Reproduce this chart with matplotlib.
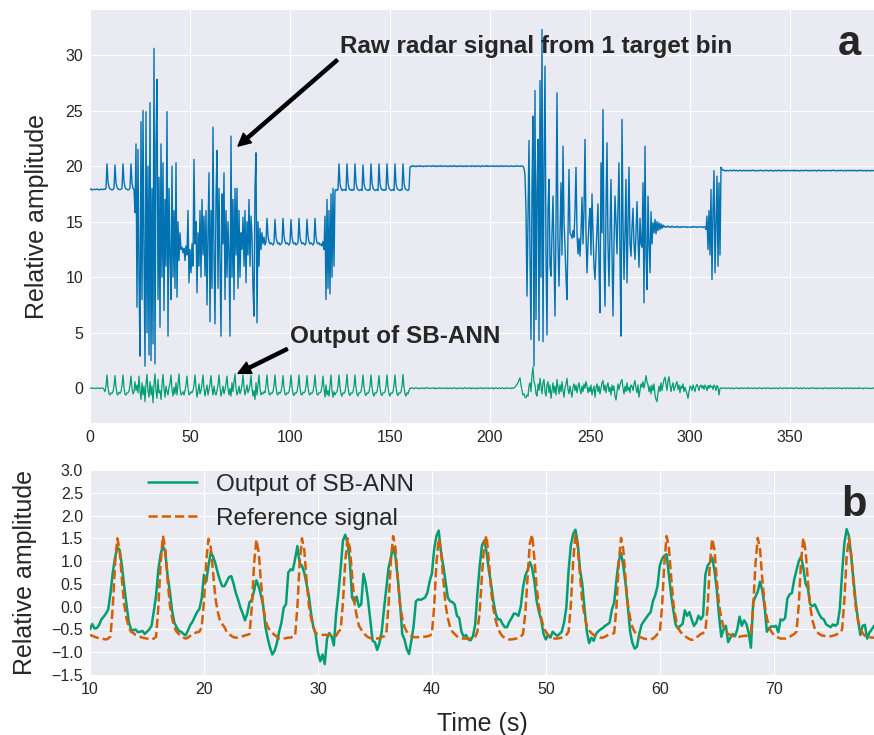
import numpy as np
import matplotlib
matplotlib.use("Agg")
import matplotlib.pyplot as plt

# ---- panel a: raw radar bin and SB-ANN output, one sample every 0.5 s from t = 0
raw_step = 0.5
raw_signal = [
    17.9, 17.95, 17.85, 17.9, 17.92, 17.88, 17.9, 17.95, 17.9, 17.85, 17.9, 17.93, 17.88, 17.9, 17.95, 17.9, 18.0, 20.2, 18.6, 18.1,
    17.95, 17.9, 17.85, 17.9, 18.0, 20.1, 18.5, 18.1, 17.95, 17.9, 17.88, 17.92, 18.0, 20.2, 18.6, 18.1, 17.95, 17.9, 17.85, 17.9,
    18.0, 20.2, 18.5, 18.0, 17.9, 15.8, 22.0, 7.3, 21.5, 10.0, 2.9, 24.0, 8.0, 25.0, 12.0, 2.0, 24.9, 5.0, 20.0, 3.0,
    25.7, 2.5, 18.0, 4.0, 30.6, 2.2, 22.0, 27.8, 8.0, 19.0, 5.5, 22.0, 10.0, 20.3, 7.0, 17.0, 11.0, 24.9, 4.7, 18.0,
    12.0, 8.0, 20.0, 10.0, 16.0, 9.0, 20.3, 8.2, 15.0, 11.5, 14.0, 12.5, 12.7, 12.2, 12.6, 11.5, 12.8, 12.0, 16.0, 9.5,
    12.5, 10.4, 13.0, 11.0, 20.6, 13.0, 15.0, 8.6, 14.0, 11.0, 16.0, 10.0, 17.0, 12.0, 15.5, 10.1, 16.0, 7.5, 14.0, 19.4,
    6.0, 16.0, 9.0, 23.5, 12.0, 5.8, 17.0, 21.4, 9.0, 18.0, 11.0, 4.7, 17.5, 13.0, 19.4, 8.0, 16.0, 10.0, 15.0, 12.0,
    4.7, 22.7, 10.0, 17.0, 8.0, 18.0, 12.0, 18.0, 9.0, 16.0, 10.0, 14.0, 12.5, 15.4, 11.0, 16.0, 9.5, 15.0, 12.0, 17.0,
    11.0, 15.5, 13.7, 9.0, 6.5, 18.0, 21.2, 5.9, 15.0, 11.0, 14.4, 12.5, 14.0, 13.0, 13.6, 12.9, 13.2, 15.3, 13.7, 13.2,
    13.0, 13.1, 13.0, 12.9, 13.1, 15.2, 13.6, 13.2, 13.0, 13.1, 12.9, 13.0, 13.1, 15.3, 13.7, 13.2, 13.0, 13.1, 13.0, 12.9,
    13.1, 15.2, 13.6, 13.1, 13.0, 13.1, 12.9, 13.0, 13.1, 15.3, 13.6, 13.2, 13.0, 13.1, 13.0, 12.9, 13.1, 15.2, 13.7, 13.2,
    13.0, 13.1, 13.0, 12.9, 13.1, 15.3, 13.6, 13.1, 13.0, 13.1, 12.9, 13.0, 12.8, 13.2, 12.5, 15.5, 8.0, 17.0, 9.0, 16.0,
    8.5, 17.5, 10.0, 18.0, 11.0, 17.8, 17.9, 17.8, 17.9, 20.2, 18.4, 18.0, 17.8, 17.9, 17.85, 17.9, 17.8, 20.2, 18.5, 18.0,
    17.85, 17.9, 17.8, 17.9, 17.85, 20.2, 18.5, 18.0, 17.9, 17.8, 17.85, 17.9, 17.8, 20.1, 18.4, 18.0, 17.9, 17.85, 17.8, 17.9,
    17.85, 20.2, 18.5, 18.0, 17.9, 17.8, 17.85, 17.9, 17.8, 20.2, 18.4, 18.0, 17.85, 17.9, 17.8, 17.9, 17.85, 20.2, 18.5, 18.0,
    17.9, 17.8, 17.85, 17.9, 17.8, 20.2, 18.4, 18.0, 17.9, 17.85, 17.8, 17.9, 17.85, 20.2, 18.5, 18.0, 17.9, 17.85, 17.8, 17.9,
    19.9, 20.0, 19.95, 20.05, 19.98, 20.0, 19.95, 20.02, 20.0, 19.97, 20.05, 19.98, 20.0, 19.95, 20.02, 20.0, 19.96, 20.03, 19.99, 20.0,
    20.02, 19.96, 20.0, 20.05, 19.97, 19.99, 20.03, 19.95, 20.0, 20.02, 19.98, 20.04, 19.96, 20.0, 20.01, 19.97, 20.03, 19.99, 19.95, 20.02,
    19.98, 20.03, 19.96, 20.0, 20.05, 19.97, 20.01, 19.95, 20.02, 20.0, 19.97, 20.04, 19.99, 19.96, 20.02, 20.0, 19.95, 20.03, 19.98, 20.01,
    20.0, 19.96, 20.04, 19.98, 20.01, 19.95, 20.03, 20.0, 19.97, 20.02, 19.99, 19.95, 20.04, 20.0, 19.97, 20.02, 19.98, 20.05, 19.96, 20.0,
    20.02, 19.97, 20.0, 20.04, 19.96, 20.01, 19.98, 20.03, 19.95, 20.0, 20.02, 19.97, 20.04, 19.99, 19.96, 20.01, 20.03, 19.98, 20.0, 19.96,
    20.01, 20.03, 19.97, 20.0, 19.96, 20.02, 19.98, 20.04, 19.99, 20.0, 19.97, 20.02, 19.98, 20.0, 19.8, 19.2, 16.0, 8.3, 15.0, 22.3,
    12.0, 4.4, 18.0, 24.5, 2.0, 26.8, 6.2, 18.0, 22.4, 4.3, 27.7, 10.0, 32.3, 4.2, 20.0, 29.0, 12.0, 4.8, 16.0, 18.8,
    11.0, 10.1, 14.0, 17.3, 12.0, 6.5, 15.0, 26.6, 13.0, 9.2, 14.0, 18.5, 12.0, 21.8, 15.0, 12.8, 10.0, 8.0, 14.0, 19.7,
    14.0, 13.8, 13.5, 14.2, 13.6, 16.0, 19.9, 14.0, 12.1, 13.5, 11.9, 14.0, 17.2, 13.0, 16.0, 22.4, 14.0, 10.4, 13.0, 15.0,
    16.2, 12.0, 17.5, 14.0, 11.0, 9.8, 12.1, 14.5, 16.6, 11.0, 6.8, 20.3, 14.0, 25.1, 12.0, 7.4, 16.0, 22.1, 13.0, 9.2,
    14.0, 18.8, 12.0, 6.5, 13.0, 17.3, 15.0, 12.1, 16.0, 20.3, 12.0, 4.7, 24.2, 15.0, 9.8, 14.0, 18.8, 9.5, 15.0, 19.9,
    13.0, 11.9, 14.5, 16.2, 13.0, 11.6, 14.0, 16.8, 13.5, 10.9, 15.3, 13.0, 12.7, 18.5, 7.7, 21.8, 12.0, 8.9, 17.3, 13.0,
    10.4, 15.9, 13.0, 14.9, 14.0, 15.2, 13.9, 15.0, 14.2, 14.9, 14.3, 14.8, 14.4, 14.7, 14.5, 14.6, 14.5, 14.55, 14.6, 14.5,
    14.55, 14.5, 14.6, 14.52, 14.48, 14.55, 14.5, 14.58, 14.5, 14.53, 14.47, 14.55, 14.5, 14.57, 14.52, 14.5, 14.55, 14.48, 14.53, 14.5,
    14.52, 14.48, 14.55, 14.5, 14.57, 14.5, 14.53, 14.47, 14.55, 14.5, 14.52, 14.56, 14.5, 14.48, 14.55, 14.5, 14.3, 15.5, 12.5, 16.0,
    12.0, 17.9, 9.8, 16.0, 19.6, 10.4, 15.0, 19.1, 11.0, 18.5, 12.0, 19.9, 19.7, 19.6, 19.65, 19.6, 19.55, 19.62, 19.6, 19.58,
    19.6, 19.63, 19.57, 19.6, 19.65, 19.58, 19.6, 19.62, 19.55, 19.6, 19.64, 19.58, 19.6, 19.57, 19.63, 19.6, 19.56, 19.62, 19.6, 19.58,
    19.62, 19.57, 19.6, 19.64, 19.58, 19.6, 19.55, 19.62, 19.6, 19.57, 19.63, 19.6, 19.58, 19.61, 19.56, 19.6, 19.64, 19.59, 19.6, 19.57,
    19.6, 19.63, 19.58, 19.6, 19.55, 19.62, 19.6, 19.57, 19.64, 19.6, 19.58, 19.62, 19.56, 19.6, 19.63, 19.58, 19.6, 19.57, 19.62, 19.6,
    19.57, 19.62, 19.6, 19.58, 19.64, 19.56, 19.6, 19.62, 19.58, 19.6, 19.55, 19.63, 19.6, 19.57, 19.61, 19.6, 19.64, 19.58, 19.6, 19.56,
    19.62, 19.6, 19.57, 19.63, 19.58, 19.6, 19.62, 19.55, 19.6, 19.64, 19.58, 19.6, 19.57, 19.62, 19.6, 19.56, 19.63, 19.6, 19.58, 19.61,
    19.6, 19.57, 19.62, 19.6, 19.64, 19.58, 19.6, 19.56, 19.62, 19.6, 19.58, 19.63, 19.6, 19.57, 19.6, 19.62, 19.55, 19.6, 19.63, 19.58,
    19.6, 19.62, 19.57, 19.6, 19.63, 19.58, 19.6, 19.56, 19.62, 19.6, 19.58, 19.64, 19.6, 19.57, 19.61, 19.6, 19.55, 19.62, 19.6, 19.58,
    19.6, 19.58, 19.62, 19.6, 19.57,
]
ann_long = [
    0.02, 0.0, 0.05, -0.02, 0.03, 0.0, -0.03, 0.02, 0.05, 0.0, -0.02, 0.03, 0.0, 0.02, -0.1, -0.3, 0.2, 1.2, 0.1, -0.5,
    -0.6, -0.4, -0.45, -0.3, 0.2, 1.15, 0.1, -0.5, -0.6, -0.35, -0.45, -0.3, 0.25, 1.2, 0.05, -0.55, -0.6, -0.4, -0.4, -0.25,
    0.3, 1.1, 0.0, -0.5, -0.3, 0.6, -0.2, 0.3, -0.4, 1.1, -0.2, -1.0, 0.5, -0.6, 0.2, -1.2, 0.4, 1.25, -0.3, -0.8,
    0.6, -0.6, 0.2, -1.3, 0.3, 1.3, -0.2, -0.9, 0.8, -0.4, -0.2, -1.0, 0.3, 1.25, 0.0, -0.8, 0.2, -0.3, -0.6, 0.1,
    0.4, 1.2, -0.1, -0.7, 0.1, -0.5, 0.5, -0.6, 0.3, 1.3, 0.0, -0.6, -0.5, -0.3, -0.6, -0.2, 0.3, 1.1, 0.0, -0.6,
    -0.5, -0.3, -0.4, -0.2, 0.3, 1.2, 0.1, -0.8, -0.3, 0.4, -0.5, -0.2, 0.4, 1.2, 0.0, -0.7, -0.2, 0.3, -0.6, -0.1,
    0.4, 1.15, 0.0, -0.6, 0.2, -0.4, -0.6, -0.2, 0.3, 1.2, 0.1, -0.7, -0.3, 0.2, -0.5, -0.1, 0.4, 1.1, -0.1, -0.6,
    0.0, -0.7, 0.5, -0.3, 0.6, 1.3, 0.0, -0.6, -0.3, 0.2, -0.5, -0.2, 0.3, 1.2, 0.1, -0.6, -0.2, 0.3, -0.4, -0.1,
    0.3, 1.15, 0.0, -0.7, -0.2, -1.0, 0.5, -0.6, 0.3, 1.2, 0.0, -0.6, -0.4, -0.5, -0.3, -0.4, 0.3, 1.2, 0.1, -0.5,
    -0.6, -0.4, -0.45, -0.3, 0.25, 1.2, 0.1, -0.5, -0.6, -0.35, -0.45, -0.3, 0.2, 1.15, 0.05, -0.55, -0.6, -0.4, -0.45, -0.3,
    0.2, 1.2, 0.1, -0.5, -0.65, -0.4, -0.45, -0.3, 0.25, 1.2, 0.0, -0.55, -0.6, -0.35, -0.4, -0.3, 0.2, 1.15, 0.1, -0.5,
    -0.6, -0.4, -0.45, -0.3, 0.25, 1.2, 0.05, -0.55, -0.6, -0.4, -0.4, -0.3, 0.2, 1.1, 0.0, -0.8, 0.3, -0.6, -0.2, -0.7,
    0.3, 1.2, -0.2, -0.8, -0.3, -0.6, -0.4, -0.3, 0.2, 1.2, 0.1, -0.5, -0.7, -0.4, -0.45, -0.3, 0.25, 1.25, 0.1, -0.5,
    -0.65, -0.4, -0.45, -0.3, 0.2, 1.2, 0.05, -0.55, -0.7, -0.4, -0.4, -0.3, 0.25, 1.2, 0.1, -0.5, -0.65, -0.4, -0.45, -0.3,
    0.2, 1.2, 0.1, -0.5, -0.7, -0.4, -0.45, -0.3, 0.25, 1.15, 0.05, -0.55, -0.65, -0.4, -0.4, -0.3, 0.2, 1.2, 0.1, -0.5,
    -0.7, -0.4, -0.45, -0.3, 0.25, 1.2, 0.1, -0.5, -0.65, -0.4, -0.45, -0.3, 0.2, 1.25, 0.1, -0.5, -0.7, -0.4, -0.5, -0.2,
    0.03, -0.02, 0.05, 0.0, -0.04, 0.02, 0.06, -0.01, 0.03, -0.05, 0.01, 0.04, -0.02, 0.0, 0.05, -0.03, 0.02, 0.07, -0.01, 0.03,
    -0.03, 0.02, 0.0, 0.05, -0.02, 0.04, -0.05, 0.01, 0.03, -0.01, 0.06, 0.0, -0.03, 0.02, 0.04, -0.02, 0.01, 0.05, -0.04, 0.02,
    0.0, 0.04, -0.03, 0.02, 0.06, -0.01, 0.03, -0.04, 0.01, 0.05, -0.02, 0.0, 0.03, -0.05, 0.02, 0.07, -0.01, 0.02, -0.03, 0.04,
    0.02, -0.04, 0.05, 0.0, -0.02, 0.03, 0.01, -0.05, 0.04, 0.02, -0.01, 0.06, 0.0, -0.03, 0.02, 0.04, -0.02, 0.01, 0.05, -0.03,
    0.01, 0.04, -0.02, 0.03, -0.05, 0.02, 0.06, 0.0, -0.03, 0.04, 0.01, -0.02, 0.05, 0.02, -0.04, 0.03, 0.0, 0.06, -0.01, 0.02,
    0.02, -0.03, 0.05, 0.0, 0.03, 0.1, 0.25, 0.35, 0.5, 0.75, 0.95, 0.3, -0.2, -0.6, -0.5, -0.8, -0.85, -0.6, -0.7, 0.2,
    0.5, -0.3, 1.2, 1.9, 0.6, 0.3, -0.5, -0.7, 0.4, -0.2, 0.9, 0.2, -0.5, 0.5, 0.8, -0.3, -0.7, 0.3, 0.6, -0.4,
    0.3, -0.9, -0.2, 0.5, -0.4, 0.2, -0.6, 0.8, 0.1, -0.5, 0.3, -0.3, 0.6, -0.2, -0.8, 0.1, 0.4, 0.9, -0.1, -0.5,
    0.2, -0.3, -0.8, 0.1, 0.4, -0.2, 0.3, -0.4, 0.1, 0.5, -0.1, -0.5, 0.2, -0.3, 0.4, 0.0, 0.6, 0.2, -0.4, 0.1,
    -0.3, 0.3, -0.6, -0.1, 0.2, -0.8, 0.1, 0.4, -0.3, 0.2, -0.5, 0.0, 0.5, 0.7, -0.2, 0.3, -0.4, 0.2, 0.5, -0.3,
    0.1, -0.6, 0.3, -0.2, 0.2, -0.7, -1.05, -0.3, 0.4, -0.1, 0.3, 0.6, 0.8, 0.0, -0.5, 0.2, -0.3, 0.5, -0.2, 0.1,
    -0.4, 0.3, 0.2, -0.2, 0.4, 0.7, 0.0, -0.4, 0.3, -0.8, -0.2, 0.4, 0.1, 0.6, 0.0, 0.5, 1.14, 0.6, 0.3, -0.3,
    0.2, -0.5, 0.3, -0.2, 0.4, -0.6, -1.0, -1.2, -0.4, 0.2, -0.3, 0.5, -0.2, 0.3, 0.8, 1.0, 0.4, -0.2, 0.7, 1.05,
    0.3, -0.3, 0.2, 0.5, -0.2, 0.1, 0.4, 0.6, -0.1, 0.3, -0.4, 0.2, 0.0, 0.4, -0.3, 0.1, -0.2, -0.5, -0.9, -0.3,
    0.2, 0.1, -0.2, 0.3, 0.0, -0.3, 0.2, 0.35, 0.1, -0.2, 0.2, 0.3, 0.0, 0.25, -0.1, 0.3, 0.1, -0.2, 0.25, 0.0,
    0.3, 0.1, 0.2, -0.1, 0.3, 0.15, -0.2, 0.25, 0.1, -0.6, 0.0, 0.05, -0.02, 0.03, 0.0, 0.05, -0.03, 0.02, 0.0, 0.04,
    0.02, -0.03, 0.04, 0.0, -0.05, 0.03, 0.01, 0.06, -0.02, 0.02, -0.04, 0.05, 0.0, 0.03, -0.03, 0.04, 0.01, -0.02, 0.07, 0.0,
    -0.03, 0.04, 0.01, -0.02, 0.05, 0.0, 0.03, -0.05, 0.02, 0.06, -0.01, 0.03, -0.04, 0.02, 0.0, 0.05, -0.03, 0.02, 0.04, -0.02,
    0.03, 0.0, -0.04, 0.05, 0.02, -0.02, 0.04, 0.01, -0.05, 0.03, 0.06, -0.01, 0.02, -0.03, 0.04, 0.0, 0.05, -0.02, 0.01, 0.03,
    -0.02, 0.05, 0.0, 0.03, -0.04, 0.02, 0.06, -0.01, 0.03, -0.03, 0.01, 0.04, -0.05, 0.02, 0.05, 0.0, -0.02, 0.03, 0.01, -0.04,
    0.04, -0.01, 0.02, 0.06, -0.03, 0.01, 0.03, -0.04, 0.05, 0.0, -0.02, 0.04, 0.02, -0.05, 0.03, 0.01, 0.05, -0.02, 0.0, 0.03,
    -0.04, 0.02, 0.05, 0.0, -0.02, 0.04, 0.01, -0.03, 0.06, 0.02, -0.01, 0.03, -0.05, 0.04, 0.0, 0.02, -0.03, 0.05, 0.01, -0.02,
    0.03, -0.02, 0.04, 0.01, -0.04, 0.05, 0.0, 0.02, -0.03, 0.06, -0.01, 0.03, 0.0, -0.05, 0.04, 0.02, -0.02, 0.03, 0.01, -0.03,
    0.02, 0.0, -0.03, 0.04, 0.01,
]

# ---- panel b: 10-79 s close-up, one sample every 0.2 s
zoom_start = 10.0
zoom_step = 0.2
ann_output = [
    -0.5, -0.38, -0.48, -0.47, -0.4, -0.28, -0.22, -0.15, -0.06, 0.3,
    0.75, 1.08, 1.3, 1.25, 0.9, 0.45, 0.05, -0.33, -0.5, -0.52,
    -0.5, -0.56, -0.55, -0.53, -0.6, -0.55, -0.5, -0.42, -0.1, 0.25,
    0.82, 1.15, 1.34, 1.2, 0.7, 0.35, -0.08, -0.35, -0.45, -0.53,
    -0.55, -0.6, -0.63, -0.52, -0.4, -0.33, -0.22, -0.12, -0.05, 0.18,
    0.7, 0.55, 0.9, 1.2, 1.1, 0.95, 0.75, 0.58, 0.45, 0.45,
    0.55, 0.65, 0.67, 0.5, 0.3, 0.15, -0.02, -0.15, -0.3, -0.15,
    0.1, 0.15, 0.35, 0.58, 0.45, 0.25, 0.02, -0.45, -0.7, -0.9,
    -1.05, -0.97, -0.8, -0.55, -0.35, -0.02, 0.05, 0.75, 0.82, 0.8,
    1.05, 1.33, 0.95, 0.9, 0.75, 0.5, 0.25, -0.15, -0.45, -0.6,
    -1.0, -1.2, -1.05, -1.26, -0.7, -0.58, -0.65, -0.85, -0.15, 0.3,
    0.85, 1.45, 1.58, 1.4, 1.0, 0.2, 0.1, 0.22, 0.0, 0.05,
    0.72, 0.5, 0.15, -0.3, -0.75, -0.78, -0.95, -0.8, -0.55, -0.05,
    0.4, 0.85, 1.08, 1.3, 1.1, 0.65, 0.1, -0.6, -0.72, -0.93,
    -1.04, -0.75, -0.42, 0.12, 0.16, 0.15, 0.17, 0.2, 0.3, 0.55,
    0.72, 1.26, 1.55, 1.67, 1.2, 0.9, 0.55, 0.2, 0.12, 0.1,
    0.05, -0.2, -0.25, -0.55, -0.66, -0.62, -0.72, -0.74, -0.65, -0.4,
    0.3, 0.9, 1.35, 1.45, 1.2, 0.8, 0.5, 0.12, -0.15, -0.28,
    -0.28, -0.38, -0.45, -0.45, -0.33, -0.25, -0.15, -0.16, -0.2, 0.0,
    0.42, 0.68, 0.8, 0.98, 0.85, 0.55, 0.12, -0.12, -0.3, -0.6,
    -0.72, -0.62, -0.68, -0.55, -0.6, -0.64, -0.6, -0.55, -0.35, -0.02,
    0.8, 1.35, 1.6, 1.69, 1.4, 0.82, 0.5, -0.05, -0.55, -0.8,
    -0.68, -0.75, -0.6, -0.54, -0.5, -0.47, -0.42, -0.39, -0.35, -0.06,
    0.09, 0.6, 1.0, 1.18, 0.9, 0.5, 0.0, -0.55, -0.8, -0.92,
    -0.88, -0.6, -0.4, -0.32, -0.25, -0.18, -0.12, 0.12, 0.25, 0.45,
    0.9, 1.05, 1.12, 1.15, 0.7, 0.25, -0.1, -0.4, -0.48, -0.42,
    -0.38, -0.08, -0.2, -0.12, -0.28, -0.42, -0.35, -0.2, -0.28, -0.2,
    0.7, 0.9, 0.97, 1.08, 0.8, 0.38, -0.2, -0.66, -0.5, -0.42,
    -0.78, -0.68, -0.6, -0.65, -0.5, -0.22, -0.42, -0.3, -0.38, -0.57,
    -0.9, 0.1, 0.22, 0.33, 0.55, 0.35, 0.0, -0.55, -0.47, -0.43,
    -0.44, -0.42, -0.56, -0.28, -0.3, -0.25, 0.18, 0.27, 0.3, 0.6,
    0.8, 1.0, 1.1, 0.85, 0.5, 0.4, 0.05, 0.01, 0.05, -0.06,
    -0.17, -0.25, -0.28, -0.39, -0.42, -0.45, -0.39, -0.42, -0.38, -0.05,
    0.74, 1.4, 1.7, 1.55, 1.1, 0.6, 0.09, -0.3, -0.62, -0.42,
    -0.4, -0.7, -0.57, -0.5, -0.42, -0.4,
]
reference = [
    -0.62, -0.64, -0.66, -0.68, -0.69, -0.7, -0.71, -0.72, -0.7, -0.65,
    0.0, 0.95, 1.5, 1.25, 0.6, 0.05, -0.25, -0.45, -0.55, -0.58,
    -0.62, -0.64, -0.66, -0.68, -0.69, -0.7, -0.72, -0.72, -0.7, -0.66,
    0.0, 0.98, 1.56, 1.28, 0.62, 0.06, -0.25, -0.45, -0.55, -0.6,
    -0.65, -0.68, -0.7, -0.68, -0.64, -0.6, -0.58, -0.56, -0.55, -0.45,
    0.1, 1.0, 1.49, 1.3, 0.75, 0.2, -0.1, -0.3, -0.38, -0.45,
    -0.55, -0.6, -0.64, -0.67, -0.68, -0.68, -0.67, -0.65, -0.63, -0.62,
    -0.6, 0.0, 0.95, 1.47, 1.2, 0.55, 0.0, -0.3, -0.45, -0.52,
    -0.58, -0.62, -0.66, -0.7, -0.7, -0.7, -0.69, -0.68, -0.68, -0.66,
    -0.64, 0.0, 0.96, 1.5, 1.25, 0.6, 0.05, -0.25, -0.45, -0.58,
    -0.6, -0.62, -0.62, -0.62, -0.62, -0.62, -0.63, -0.64, -0.64, -0.55,
    -0.5, 0.1, 1.0, 1.5, 1.3, 0.7, 0.1, -0.2, -0.42, -0.5,
    -0.58, -0.63, -0.67, -0.69, -0.7, -0.7, -0.7, -0.69, -0.67, -0.65,
    -0.6, 0.05, 1.0, 1.55, 1.3, 0.65, 0.05, -0.25, -0.45, -0.55,
    -0.6, -0.64, -0.67, -0.67, -0.67, -0.66, -0.66, -0.66, -0.65, -0.64,
    -0.6, 0.0, 0.95, 1.5, 1.25, 0.6, 0.05, -0.25, -0.45, -0.55,
    -0.6, -0.65, -0.68, -0.7, -0.7, -0.7, -0.7, -0.7, -0.69, -0.66,
    -0.55, -0.1, 0.7, 1.4, 1.56, 1.0, 0.35, -0.05, -0.3, -0.48,
    -0.58, -0.65, -0.68, -0.7, -0.72, -0.72, -0.71, -0.7, -0.68, -0.66,
    -0.6, -0.15, 0.65, 1.4, 1.58, 1.05, 0.4, 0.0, -0.25, -0.45,
    -0.55, -0.62, -0.66, -0.7, -0.7, -0.7, -0.69, -0.68, -0.66, -0.62,
    -0.55, 0.05, 1.0, 1.58, 1.3, 0.7, 0.1, -0.2, -0.42, -0.52,
    -0.58, -0.62, -0.64, -0.66, -0.68, -0.68, -0.66, -0.63, -0.61, -0.6,
    -0.58, 0.0, 0.95, 1.51, 1.25, 0.6, 0.05, -0.25, -0.45, -0.55,
    -0.62, -0.66, -0.68, -0.7, -0.71, -0.72, -0.72, -0.7, -0.66, -0.6,
    -0.58, 0.0, 0.95, 1.55, 1.3, 0.65, 0.05, -0.25, -0.45, -0.55,
    -0.6, -0.64, -0.68, -0.71, -0.73, -0.72, -0.68, -0.64, -0.6, -0.58,
    -0.55, 0.0, 0.95, 1.49, 1.25, 0.6, 0.05, -0.25, -0.45, -0.55,
    -0.6, -0.62, -0.64, -0.65, -0.66, -0.66, -0.65, -0.64, -0.64, -0.62,
    -0.58, 0.0, 0.95, 1.51, 1.25, 0.6, 0.05, -0.25, -0.45, -0.55,
    -0.62, -0.65, -0.68, -0.7, -0.7, -0.7, -0.68, -0.66, -0.63, -0.6,
    -0.55, 0.05, 1.0, 1.51, 1.22, 0.55, 0.0, -0.3, -0.48, -0.56,
    -0.6, -0.63, -0.64, -0.65, -0.65, -0.65, -0.64, -0.62, -0.6, -0.58,
    -0.5, 0.15, 1.1, 1.51, 1.15, 0.5, 0.0, -0.3, -0.48, -0.58,
    -0.64, -0.66, -0.67, -0.68, -0.68, -0.68,
]

blue = '#0173B2'
green = '#029E73'
orange = '#D55E00'
dark = '#262626'

plt.style.use('seaborn-v0_8-darkgrid')
plt.rcParams['font.family'] = ['Liberation Sans', 'DejaVu Sans']

fig = plt.figure(figsize=(8.74, 7.35), dpi=100)
ax1 = fig.add_axes([90 / 874, 312 / 735, 784 / 874, 413 / 735])
ax2 = fig.add_axes([90 / 874, 60 / 735, 784 / 874, 205 / 735])

t_long = raw_step * np.arange(len(raw_signal))
ax1.plot(t_long, raw_signal, color=blue, lw=1.0)
ax1.plot(raw_step * np.arange(len(ann_long)), ann_long, color=green, lw=0.9)
ax1.set_xlim(0, 392)
ax1.set_ylim(-3.12, 34.05)
ax1.set_xticks(np.arange(0, 351, 50))
ax1.set_yticks(np.arange(0, 31, 5))
ax1.set_ylabel('Relative amplitude', fontsize=18, color=dark, labelpad=11.5)
ax1.tick_params(labelsize=11.5, colors=dark, pad=5)

arrow = dict(facecolor='black', edgecolor='black', width=2.2, headwidth=9, headlength=9, shrink=0)
ax1.annotate('Raw radar signal from 1 target bin', xy=(74, 21.8), xytext=(125, 30.8),
             ha='left', va='center', fontsize=17.5, fontweight='bold', color=dark, arrowprops=arrow)
ax1.annotate('Output of SB-ANN', xy=(74, 1.35), xytext=(100, 4.7),
             ha='left', va='center', fontsize=17.5, fontweight='bold', color=dark, arrowprops=arrow)
ax1.text(0.968, 0.891, 'a', transform=ax1.transAxes, ha='center', va='baseline',
         fontsize=30, fontweight='bold', color=dark)

t_zoom = zoom_start + zoom_step * np.arange(len(ann_output))
ax2.plot(t_zoom, ann_output, color=green, lw=1.8, label='Output of SB-ANN')
ax2.plot(zoom_start + zoom_step * np.arange(len(reference)), reference, color=orange, lw=1.8,
         ls='--', label='Reference signal')
ax2.set_xlim(10, 78.8)
ax2.set_ylim(-1.5, 3.0)
ax2.set_xticks(np.arange(10, 71, 10))
ax2.set_yticks(np.arange(-1.5, 3.01, 0.5))
ax2.set_xlabel('Time (s)', fontsize=18, color=dark, labelpad=10.5)
ax2.set_ylabel('Relative amplitude', fontsize=18, color=dark, labelpad=10.5)
ax2.tick_params(labelsize=11.5, colors=dark, pad=5)
ax2.legend(loc='upper left', bbox_to_anchor=(0.062, 1.03), frameon=False, fontsize=17.5,
           borderaxespad=0)
ax2.text(0.974, 0.777, 'b', transform=ax2.transAxes, ha='center', va='baseline',
         fontsize=30, fontweight='bold', color=dark)

fig.savefig('out.png', dpi=100)
